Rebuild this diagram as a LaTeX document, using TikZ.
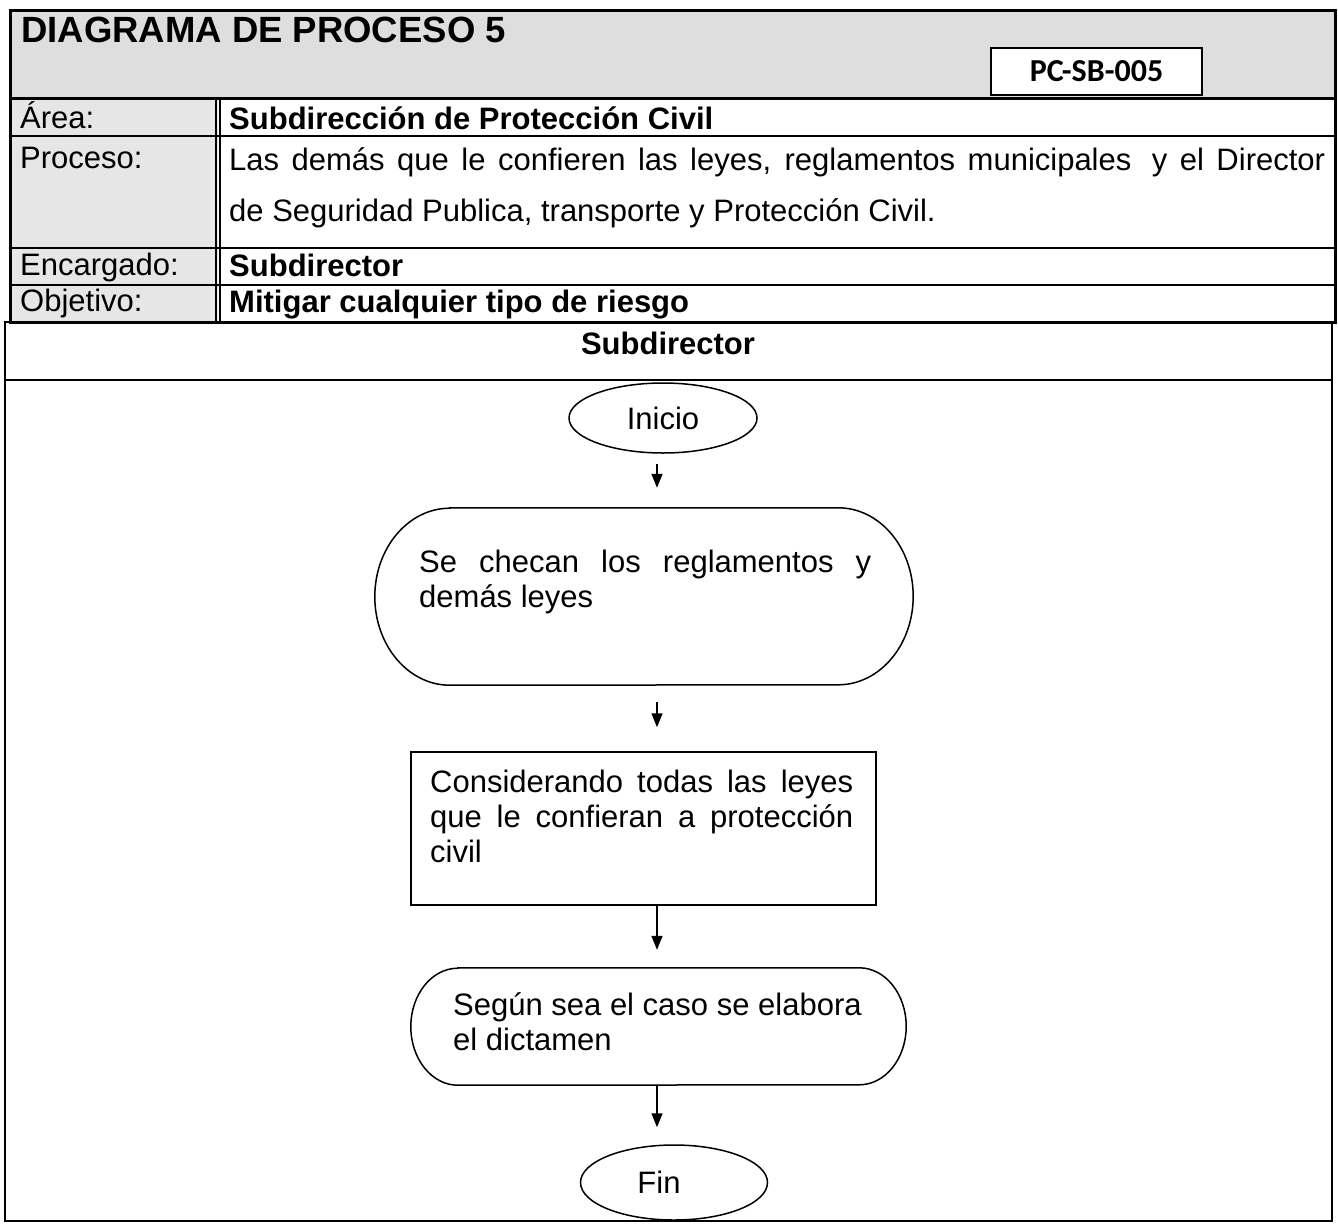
\documentclass[tikz,border=0pt]{standalone}
\usepackage{fontspec}
\setmainfont{Liberation Sans}
\newfontfamily\calib{Carlito}
\usetikzlibrary{shapes.geometric,arrows.meta}
\definecolor{scangray}{RGB}{222,222,222}
\definecolor{lblgray}{RGB}{230,230,230}
\begin{document}
\begin{tikzpicture}[x=1pt,y=-1pt,
  bodyfont/.style={font=\fontsize{31}{35}\selectfont},
  txt/.style={anchor=base west, inner sep=0, bodyfont},
  btxt/.style={anchor=base west, inner sep=0, font=\fontsize{31}{35}\selectfont\bfseries},
  shapeline/.style={line width=1.5pt},
  term/.style={ellipse, draw, shapeline, inner sep=0, bodyfont},
  flowbox/.style={rectangle, inner sep=0},
  arr/.style={line width=1.5pt, -{Triangle[length=14pt,width=11pt]}}
]
\useasboundingbox (0,0) rectangle (1338,1224);
\fill[white] (0,0) rectangle (1338,1224);

% ---------- header table ----------
\fill[scangray] (10,10) rectangle (1335,98);
\fill[lblgray] (10,98) rectangle (218,322);
\draw[line width=2pt] (10,136) -- (1335,136);
\draw[line width=2pt] (10,248) -- (1335,248);
\draw[line width=2pt] (10,285) -- (1335,285);
\draw[line width=1.2pt] (216,98) -- (216,322) (220,98) -- (220,322);
\draw[line width=3pt] (10,98) -- (1335,98);
\draw[line width=3pt] (10,10) rectangle (1335,322);

\node[anchor=base west, inner sep=0, font=\bfseries\fontsize{36.5}{40}\selectfont] (title) at (21,42) {DIAGRAMA DE PROCESO 5};
\node[draw, fill=white, line width=2pt, minimum width=211pt, minimum height=47pt, inner sep=0,
      font=\calib\bfseries\fontsize{32}{36}\selectfont] (code) at (1096.5,71.5) {PC-SB-005};

\node[txt] (larea) at (20,128) {Área:};
\node[txt] (lproc) at (20,168) {Proceso:};
\node[txt] (lenc)  at (20,275) {Encargado:};
\node[txt] (lobj)  at (20,311) {Objetivo:};

\node[btxt] (varea) at (229,129) {Subdirección de Protección Civil};
\node[txt] (vproc1) at (229,170) {\makebox[1096pt][s]{Las demás que le confieren las leyes, reglamentos municipales\hspace{8pt} y el Director}};
\node[txt] (vproc2) at (229,221) {de Seguridad Publica, transporte y Protección Civil.};
\node[btxt] (venc) at (229,276) {Subdirector};
\node[btxt] (vobj) at (229,312) {Mitigar cualquier tipo de riesgo};

% ---------- lane ----------
\draw[line width=2pt] (5,322) rectangle (1332,1221);
\draw[line width=2pt] (5,380) -- (1332,380);
\node[anchor=base, inner sep=0, font=\fontsize{31}{35}\selectfont\bfseries] (lane) at (668,354) {Subdirector};

% ---------- flowchart ----------
\coordinate (ax) at (657,0);

\node[term, minimum width=188pt, minimum height=70pt] (ini) at (663,418) {Inicio};

\node[flowbox, minimum width=538pt, minimum height=177pt] (s1) at (644,596.5) {};
\draw[shapeline] ([xshift=75pt]s1.north west) -- ([xshift=-75pt]s1.north east)
  arc[start angle=90, end angle=-90, x radius=75pt, y radius=88.5pt]
  -- ([xshift=75pt]s1.south west)
  arc[start angle=270, end angle=90, x radius=75pt, y radius=88.5pt] -- cycle;
\node[txt] (s1txt) at (419,572) {\parbox[t]{452pt}{\makebox[452pt][s]{Se checan los reglamentos y}\\demás leyes}};

\node[flowbox, draw, shapeline, minimum width=465pt, minimum height=153pt] (rect) at (643.5,828.5) {};
\node[txt] (recttxt) at (430,792) {\parbox[t]{423pt}{\makebox[423pt][s]{Considerando todas las leyes}\\\makebox[423pt][s]{que le confieran a protección}\\civil}};

\node[flowbox, minimum width=495pt, minimum height=117pt] (s3) at (658.5,1026.5) {};
\draw[shapeline] ([xshift=47pt]s3.north west) -- ([xshift=-47pt]s3.north east)
  arc[start angle=90, end angle=-90, x radius=47pt, y radius=58.5pt]
  -- ([xshift=47pt]s3.south west)
  arc[start angle=270, end angle=90, x radius=47pt, y radius=58.5pt] -- cycle;
\node[txt] (s3txt) at (453,1015) {\parbox[t]{420pt}{Según sea el caso se elabora\\el dictamen}};

\node[term, minimum width=187pt, minimum height=75pt,
      label={[xshift=-15pt, inner sep=0, font=\fontsize{31}{35}\selectfont]center:Fin}] (fin) at (674,1182.5) {};

\draw[arr, shorten <=10pt, shorten >=20pt] (ini.south -| ax) -- (s1.north -| ax);
\draw[arr, shorten <=17pt, shorten >=24pt] (s1.south -| ax) -- (rect.north -| ax);
\draw[arr, shorten >=18pt] (rect.south -| ax) -- (s3.north -| ax);
\draw[arr, shorten >=17pt] (s3.south -| ax) -- (fin.north -| ax);
\end{tikzpicture}
\end{document}
